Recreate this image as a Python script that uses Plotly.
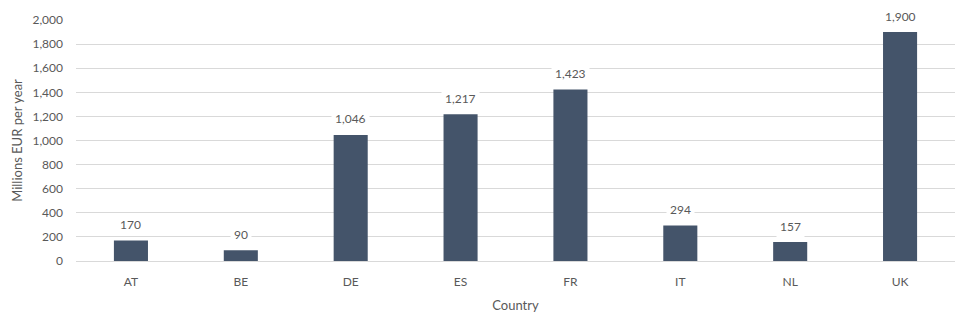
import plotly.graph_objects as go

countries = ["AT", "BE", "DE", "ES", "FR", "IT", "NL", "UK"]
values = [170, 90, 1046, 1217, 1423, 294, 157, 1900]
y_ticks = [0, 200, 400, 600, 800, 1000, 1200, 1400, 1600, 1800, 2000]

BAR = "#44546A"
TXT = "#595959"
FONT = "Lato"

fig = go.Figure(go.Bar(x=countries, y=values, marker_color=BAR, marker_line_width=0))

for c, v in zip(countries, values):
    fig.add_annotation(x=c, y=v, text=f"{v:,}", showarrow=False, yshift=16,
                       bgcolor="white", borderpad=3,
                       font=dict(family=FONT, size=12, color=TXT))

fig.update_layout(
    width=974, height=326,
    margin=dict(l=76, r=19, t=18, b=65),
    plot_bgcolor="white", paper_bgcolor="white",
    bargap=0.69,
    showlegend=False,
    font=dict(family=FONT, size=12, color=TXT),
)
fig.update_yaxes(range=[0, 2000], tickvals=y_ticks, tickformat=",", showgrid=True,
                 gridcolor="#D9D9D9", gridwidth=1, zeroline=False, showline=False,
                 ticklabelstandoff=12,
                 title=dict(text="Millions EUR per year", font=dict(size=13, color=TXT), standoff=6))
fig.update_xaxes(showline=True, linecolor="#D9D9D9", linewidth=1, ticks="",
                 ticklabelstandoff=10,
                 title=dict(text="Country", font=dict(size=13, color=TXT), standoff=12))

fig.write_html("out.html")
